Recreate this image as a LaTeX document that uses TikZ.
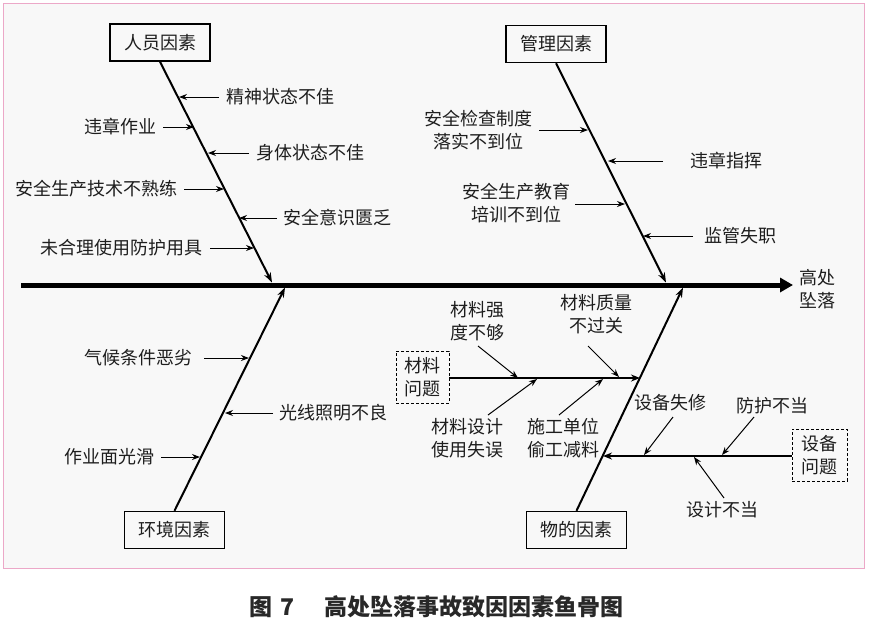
\documentclass[tikz,border=0pt]{standalone}
\usepackage{fontspec}
\setmainfont{Noto Sans CJK SC}
\usetikzlibrary{arrows.meta}
\definecolor{pinkb}{RGB}{236,168,200}
\definecolor{bgc}{RGB}{248,248,248}
\definecolor{txt}{RGB}{30,30,30}
\definecolor{capc}{RGB}{40,40,40}
\begin{document}
\begin{tikzpicture}[x=1pt,y=-1pt,
  lab/.style={font=\fontsize{18}{23}\selectfont, text=txt, inner sep=0pt, align=center},
  catbox/.style={draw, line width=1.5pt, minimum width=100pt, minimum height=37pt, inner sep=0pt, font=\fontsize{18}{23}\selectfont, text=txt},
  dbox/.style={draw, dashed, dash pattern=on 3pt off 2pt, line width=0.9pt, inner sep=0pt, align=center, font=\fontsize{18}{23}\selectfont, text=txt},
  bone/.style={line width=2pt, -{Stealth[length=10pt,width=7pt]}},
  sub/.style={line width=1pt, -{Stealth[length=8pt,width=6pt]}},
  twig/.style={line width=1.5pt, -{Stealth[length=9pt,width=7pt]}},
]
\useasboundingbox (0,0) rectangle (869,625);
\fill[white] (0,0) rectangle (869,625);
\draw[pinkb, fill=bgc, line width=1pt] (3,3) rectangle (864,568);

% main spine
\coordinate (tail) at (21,285);
\coordinate (head) at (793,285);
\draw[line width=5pt, -{Triangle[length=13pt,width=14pt]}] (tail) -- (head);
\node[lab, anchor=west] (result) at (799,289) {高处\\坠落};

% category boxes
\node[catbox] (people) at (160,42.5) {人员因素};
\node[catbox] (manage) at (556,44) {管理因素};
\node[catbox] (env) at (174.5,530) {环境因素};
\node[catbox] (thing) at (576.5,530) {物的因素};

\coordinate (pj) at (272,282.5);
\coordinate (mj) at (666,282.5);
\coordinate (ej) at (285,287.5);
\coordinate (tj) at (683,287.5);
\draw[bone] (people.south) -- (pj);
\draw[bone] (manage.south) -- (mj);
\draw[bone] (env.north) -- (ej);
\draw[bone] (thing.north) -- (tj);

% people causes
\node[lab, anchor=west] (p1) at (226,97) {精神状态不佳};
\node[lab, anchor=east] (p2) at (157,127) {违章作业};
\node[lab, anchor=west] (p3) at (256,153) {身体状态不佳};
\node[lab, anchor=east] (p4) at (178,189) {安全生产技术不熟练};
\node[lab, anchor=west] (p5) at (283,218) {安全意识匮乏};
\node[lab, anchor=east] (p6) at (203,248) {未合理使用防护用具};
\coordinate (hp1) at (179,97);
\coordinate (hp2) at (194,127);
\coordinate (hp3) at (208,153);
\coordinate (hp4) at (224,189);
\coordinate (hp5) at (239,218);
\coordinate (hp6) at (254,248);
\draw[sub] ([xshift=-7pt]p1.west) -- (hp1);
\draw[sub] ([xshift=6pt]p2.east) -- (hp2);
\draw[sub] ([xshift=-7pt]p3.west) -- (hp3);
\draw[sub] ([xshift=6pt]p4.east) -- (hp4);
\draw[sub] ([xshift=-6pt]p5.west) -- (hp5);
\draw[sub] ([xshift=7pt]p6.east) -- (hp6);

% management causes
\node[lab] (m1) at (478,130.5) {安全检查制度\\落实不到位};
\node[lab, anchor=west] (m2) at (690,161) {违章指挥};
\node[lab] (m3) at (516,203) {安全生产教育\\培训不到位};
\node[lab, anchor=west] (m4) at (704,236) {监管失职};
\coordinate (tm1) at (539,130);
\coordinate (hm1) at (588,130);
\coordinate (tm2) at (663,161);
\coordinate (hm2) at (608,161);
\coordinate (tm3) at (575,204);
\coordinate (hm3) at (625,204);
\coordinate (tm4) at (693,236);
\coordinate (hm4) at (643,236);
\draw[sub] (tm1) -- (hm1);
\draw[sub] (tm2) -- (hm2);
\draw[sub] (tm3) -- (hm3);
\draw[sub] (tm4) -- (hm4);

% environment causes
\node[lab, anchor=east] (e1) at (193,358) {气候条件恶劣};
\node[lab, anchor=west] (e2) at (279,413) {光线照明不良};
\node[lab, anchor=east] (e3) at (155,457) {作业面光滑};
\coordinate (he1) at (249,358);
\coordinate (he2) at (225,413);
\coordinate (he3) at (200,457);
\draw[sub] ([xshift=11pt]e1.east) -- (he1);
\draw[sub] ([xshift=-6pt]e2.west) -- (he2);
\draw[sub] ([xshift=6pt]e3.east) -- (he3);

% material problems
\node[dbox, minimum width=53pt, minimum height=52pt] (mat) at (422.5,377) {材料\\问题};
\coordinate (hmat) at (640,378);
\draw[twig] (mat.east |- 0,378) -- (hmat);
\node[lab] (t1) at (477,321) {材料强\\度不够};
\node[lab] (t2) at (596,314.5) {材料质量\\不过关};
\node[lab] (t3) at (467,438.5) {材料设计\\使用失误};
\node[lab] (t4) at (563,438.5) {施工单位\\偷工减料};
\coordinate (tt1) at (478,346); \coordinate (ht1) at (518,378);
\coordinate (tt2) at (588,346); \coordinate (ht2) at (619,377);
\coordinate (tt3) at (488,415); \coordinate (ht3) at (537,379);
\coordinate (tt4) at (559,415); \coordinate (ht4) at (603,379);
\draw[sub] (tt1) -- (ht1);
\draw[sub] (tt2) -- (ht2);
\draw[sub] (tt3) -- (ht3);
\draw[sub] (tt4) -- (ht4);

% equipment problems
\node[dbox, minimum width=55pt, minimum height=52pt] (eqp) at (819.5,455) {设备\\问题};
\coordinate (heq) at (603,456);
\draw[twig] (eqp.west |- 0,456) -- (heq);
\node[lab] (q1) at (670,403) {设备失修};
\node[lab] (q2) at (772,406) {防护不当};
\node[lab] (q3) at (722,510) {设计不当};
\coordinate (tq1) at (673,417); \coordinate (hq1) at (644,455);
\coordinate (tq2) at (754,417); \coordinate (hq2) at (722,455);
\coordinate (tq3) at (724,498); \coordinate (hq3) at (694,457);
\draw[sub] (tq1) -- (hq1);
\draw[sub] (tq2) -- (hq2);
\draw[sub] (tq3) -- (hq3);

% caption
\node[font=\fontsize{23}{27}\selectfont\bfseries, text=capc, inner sep=0pt] (cap) at (436.5,607) {图\hspace{0.35em}7\hspace{1.3em}高处坠落事故致因因素鱼骨图};
\end{tikzpicture}
\end{document}
